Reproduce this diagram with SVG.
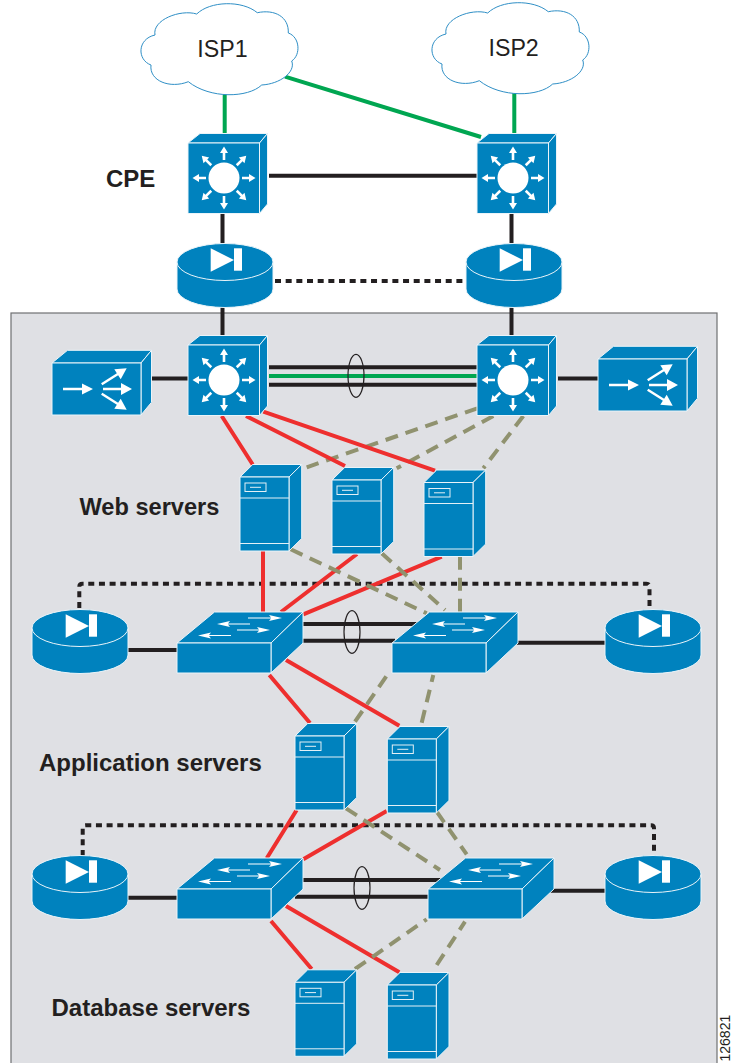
<svg xmlns="http://www.w3.org/2000/svg" width="731" height="1063" viewBox="0 0 731 1063">
<style>
.bg{fill:#dfe0e4;stroke:#6f7072;stroke-width:1.2}
.blue{fill:#0082be;stroke:#eaf4f9;stroke-width:1;stroke-linejoin:round}
.wh{fill:#fff;stroke:none}
.ln{fill:none;stroke:#e4f0f6;stroke-width:1}
.cloud{fill:#fff;stroke:#2f8fc6;stroke-width:1}
.c{fill:none;stroke-width:4}
.k{stroke:#231f20}
.g{stroke:#00a651}
.r{stroke:#ee2f2e}
.o{stroke:#90926f;stroke-dasharray:13 8}
.d{stroke:#231f20;stroke-dasharray:6 4.67}
.e{fill:none;stroke:#231f20;stroke-width:1.2}
.lb{font-family:"Liberation Sans",Arial,sans-serif;font-weight:700;font-size:24px;fill:#231f20}
.isp{font-family:"Liberation Sans",Arial,sans-serif;font-size:23.2px;fill:#231f20}
.id{font-family:"Liberation Sans",Arial,sans-serif;font-size:14px;fill:#231f20}
</style>
<defs>
<path id="cloudShape" class="cloud" d="M76.7,14 C90,1 122,0 137.3,12.7 C155,9 169,17 168.3,33 C180,37 181,55 171.7,61 C176,72 160,84 141.7,85 C128,98 90,99 68.3,81.7 C50,89 29,81 31,65 C17,60 17,39 35,35 C32,20 60,9 76.7,14 Z"/>
<polygon id="ray" class="wh" points="-1.3,-18 -1.3,-25 -4,-25 0,-31.5 4,-25 1.3,-25 1.3,-18"/>
<g id="l3">
<path class="blue" d="M0,0 L12,-9.5 L79.5,-9.5 L71.5,0 Z"/>
<path class="blue" d="M71.5,0 L79.5,-9.5 L79.5,61 L71.5,70.5 Z"/>
<rect class="blue" x="0" y="0" width="71.5" height="70.5"/>
<circle class="wh" cx="36" cy="35" r="15.5"/>
<g transform="translate(36 35)">
<use href="#ray"/><use href="#ray" transform="rotate(45)"/><use href="#ray" transform="rotate(90)"/><use href="#ray" transform="rotate(135)"/><use href="#ray" transform="rotate(180)"/><use href="#ray" transform="rotate(225)"/><use href="#ray" transform="rotate(270)"/><use href="#ray" transform="rotate(315)"/>
</g>
</g>
<g id="router">
<path class="blue" d="M-48,0 V27 A48,18.5 0 0 0 48,27 V0 Z"/>
<ellipse class="blue" cx="0" cy="0" rx="48" ry="18.5"/>
<polygon class="wh" points="-14.3,-13.7 -14.3,9.7 9,-2"/>
<rect class="wh" x="9" y="-13.7" width="8" height="22.4"/>
</g>
<g id="switch">
<path class="blue" d="M0,0 L37.5,-31 L126,-31 L94,0 Z"/>
<path class="blue" d="M94,0 L126,-31 L126,0 L94,30 Z"/>
<rect class="blue" x="0" y="0" width="94" height="30"/>
<polygon class="wh" points="71,-25.6 94,-25.6 92,-28 105,-25 92,-22 94,-24.4 71,-24.4"/>
<polygon class="wh" points="73,-19.6 51,-19.6 53,-22 40,-19 53,-16 51,-18.4 73,-18.4"/>
<polygon class="wh" points="60,-13.6 82,-13.6 80,-16 93,-13 80,-10 82,-12.4 60,-12.4"/>
<polygon class="wh" points="54,-8.1 32,-8.1 34,-10.5 21,-7.5 34,-4.5 32,-6.9 54,-6.9"/>
</g>
<g id="server">
<path class="blue" d="M0,0 L12.7,-12.5 L61.7,-12.5 L49,0 Z"/>
<path class="blue" d="M49,0 L61.7,-12.5 L61.7,61.5 L49,74 Z"/>
<rect class="blue" x="0" y="0" width="49" height="74"/>
<path class="ln" d="M0,21 H49 M0,66.5 H49 M10,10.3 H21"/>
<rect class="ln" x="5" y="6" width="21" height="8.5"/>
</g>
<g id="balancer">
<path class="blue" d="M0,0 L15.5,-12.7 L99.5,-12.7 L89,0 Z"/>
<path class="blue" d="M89,0 L99.5,-12.7 L99.5,39.3 L89,52 Z"/>
<rect class="blue" x="0" y="0" width="89" height="52"/>
<polygon class="wh" points="11,24.8 30,24.8 30,20.5 41,26 30,31.5 30,27.2 11,27.2"/>
<polygon class="wh" points="51,24.8 69,24.8 69,20 80,26 69,32 69,27.2 51,27.2"/>
<polygon class="wh" points="49.05,20.3 64.85,10.2 62.3,6.2 74.7,5.3 68.7,16.2 66.15,12.2 50.35,22.3"/>
<polygon class="wh" points="49.05,31.7 64.85,41.8 62.3,45.8 74.7,46.7 68.7,35.8 66.15,39.8 50.35,29.7"/>
</g>
</defs>

<rect id="panel" class="bg" x="11" y="313" width="706" height="760"/>

<g id="connectors">
<path class="c g" d="M224.7,90 V134 M514.3,88 V134 M285,76.7 L481,137"/>
<path class="c k" d="M269,175.7 H477 M222.5,214 V243 M511.5,214 V243 M222.5,306 V336 M511.5,306 V336 M152,378.4 H188 M558,378.4 H598"/>
<path class="c d" d="M275,281 H466"/>
<path class="c k" d="M269,367.3 H477 M269,384.7 H477"/>
<path class="c g" d="M269,376 H477"/>
<path class="c k" d="M303,624 H420 M303,640.7 H395 M128,650 H178 M516,642.7 H606"/>
<path class="c k" d="M303,880 H445 M295,896.7 H430 M127,897.7 H178 M550,890.7 H606"/>
<path class="c d" d="M79.3,608 V586.7 Q79.3,583.7 82.3,583.7 H646.5 Q649.5,583.7 649.5,586.7 V608"/>
<path class="c d" d="M82.7,856 V828.3 Q82.7,825.3 85.7,825.3 H651 Q654,825.3 654,828.3 V856"/>
<path class="c o" d="M477.3,408.3 L306.7,467.3 M493.3,416 L396.7,468.3 M523.3,416 L483.3,468.3"/>
<path class="c r" d="M221.7,416 L252.7,464.5 M246,416 L345,466 M263.3,411.7 L435,470.7 M263,551 V613 M357,554 L281,612 M441.7,556.7 L303.3,614.3 M269.3,675 L310,723 M286,660 L399.3,725.7 M296.7,810 L266.7,858.3 M386.7,811 L303.3,859.3 M271,921 L311.7,969 M286,906 L399.3,972.3"/>
<path class="c o" d="M290.7,549.3 L426.7,613.3 M381.7,553.3 L445,610 M460,556.7 V612 M355,721.7 L390.7,670 M421.7,722.7 L433.3,675 M346,808.3 L440,870 M436.7,811.7 L466.7,854.3 M355,969 L426.7,919.3 M436.7,965 L465,921.7"/>
<ellipse class="e" cx="356" cy="375.8" rx="8" ry="21.5"/>
<ellipse class="e" cx="352" cy="632" rx="8" ry="21.3"/>
<ellipse class="e" cx="362" cy="888" rx="8" ry="21.3"/>
</g>

<g id="isp1"><use href="#cloudShape" transform="translate(120 0)"/><text class="isp" x="197.3" y="56.5">ISP1</text></g>
<g id="isp2"><use href="#cloudShape" transform="translate(411 -1)"/><text class="isp" x="488.5" y="56">ISP2</text></g>
<g id="cpe-switch-1"><use href="#l3" x="188" y="143"/></g>
<g id="cpe-switch-2"><use href="#l3" x="477" y="143"/></g>
<g id="cpe-router-1"><use href="#router" x="225" y="262"/></g>
<g id="cpe-router-2"><use href="#router" x="514" y="262"/></g>
<g id="core-switch-1"><use href="#l3" x="188" y="345"/></g>
<g id="core-switch-2"><use href="#l3" x="477" y="345"/></g>
<g id="balancer-1"><use href="#balancer" x="52" y="363"/></g>
<g id="balancer-2"><use href="#balancer" x="598" y="359"/></g>
<g id="web-1"><use href="#server" x="240" y="477"/></g>
<g id="web-2"><use href="#server" x="332" y="480"/></g>
<g id="web-3"><use href="#server" x="424" y="482.5"/></g>
<g id="web-router-1"><use href="#router" x="80" y="628"/></g>
<g id="web-router-2"><use href="#router" x="653" y="628"/></g>
<g id="web-switch-1"><use href="#switch" x="177" y="643"/></g>
<g id="web-switch-2"><use href="#switch" x="392" y="643"/></g>
<g id="app-1"><use href="#server" x="295" y="736"/></g>
<g id="app-2"><use href="#server" x="387.3" y="739"/></g>
<g id="db-router-1"><use href="#router" x="80" y="874"/></g>
<g id="db-router-2"><use href="#router" x="653" y="874"/></g>
<g id="db-switch-1"><use href="#switch" x="177" y="889"/></g>
<g id="db-switch-2"><use href="#switch" x="428" y="889"/></g>
<g id="db-1"><use href="#server" x="295" y="982.3"/></g>
<g id="db-2"><use href="#server" x="387.3" y="985"/></g>

<g id="labels">
<text class="lb" x="106" y="187">CPE</text>
<text class="lb" x="79.5" y="515" style="font-size:23.6px">Web servers</text>
<text class="lb" x="39" y="771">Application servers</text>
<text class="lb" x="51.5" y="1016">Database servers</text>
<text class="id" transform="translate(730 1061.5) rotate(-90)">126821</text>
</g>
</svg>
